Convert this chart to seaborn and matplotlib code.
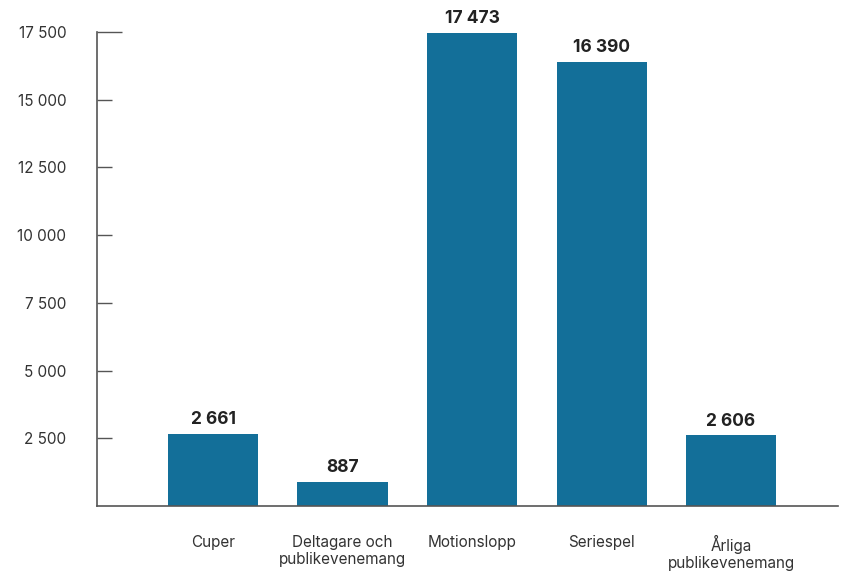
import pandas as pd
import matplotlib.pyplot as plt
import seaborn as sns

categories = ['Cuper', 'Deltagare och\npublikevenemang', 'Motionslopp', 'Seriespel', 'Årliga\npublikevenemang']
values = [2661, 887, 17473, 16390, 2606]
yticks = [2500, 5000, 7500, 10000, 12500, 15000, 17500]

df = pd.DataFrame({'kategori': categories, 'antal': values})

def fmt(v):
    return f"{v:,}".replace(",", " ")

sns.set_theme(style='white')
plt.rcParams['font.family'] = ['Inter', 'DejaVu Sans']

fig = plt.figure(figsize=(8.41, 5.71), dpi=100)
ax = fig.add_axes([0.1153, 0.1138, 0.8811, 0.8302])

sns.barplot(data=df, x='kategori', y='antal', color='#136f99', saturation=1,
            width=0.695, linewidth=0, ax=ax)

for i, v in enumerate(values):
    ax.annotate(fmt(v), (i, v), xytext=(0, 4), textcoords='offset points',
                ha='center', va='bottom', fontsize=12.5, fontweight='bold', color='#222222')

ax.set_ylim(0, 17500)
ax.set_xlim(-0.896, 4.826)
ax.set_yticks(yticks)
ax.set_yticklabels([fmt(t) for t in yticks])
ax.set_xlabel('')
ax.set_ylabel('')

sns.despine(ax=ax)
for s in ['left', 'bottom']:
    ax.spines[s].set_color('#555555')
    ax.spines[s].set_linewidth(1.2)

ax.tick_params(axis='y', direction='in', length=11, width=1, color='#555555',
               pad=22, labelsize=11, labelcolor='#333333', left=True)
ax.tick_params(axis='x', length=0, pad=21, labelsize=11, labelcolor='#333333')
ax.yaxis.get_major_ticks()[-1].tick1line.set_markersize(18)
for lab in ax.get_xticklabels():
    lab.set_linespacing(1.12)

fig.savefig('out.png', dpi=100)
